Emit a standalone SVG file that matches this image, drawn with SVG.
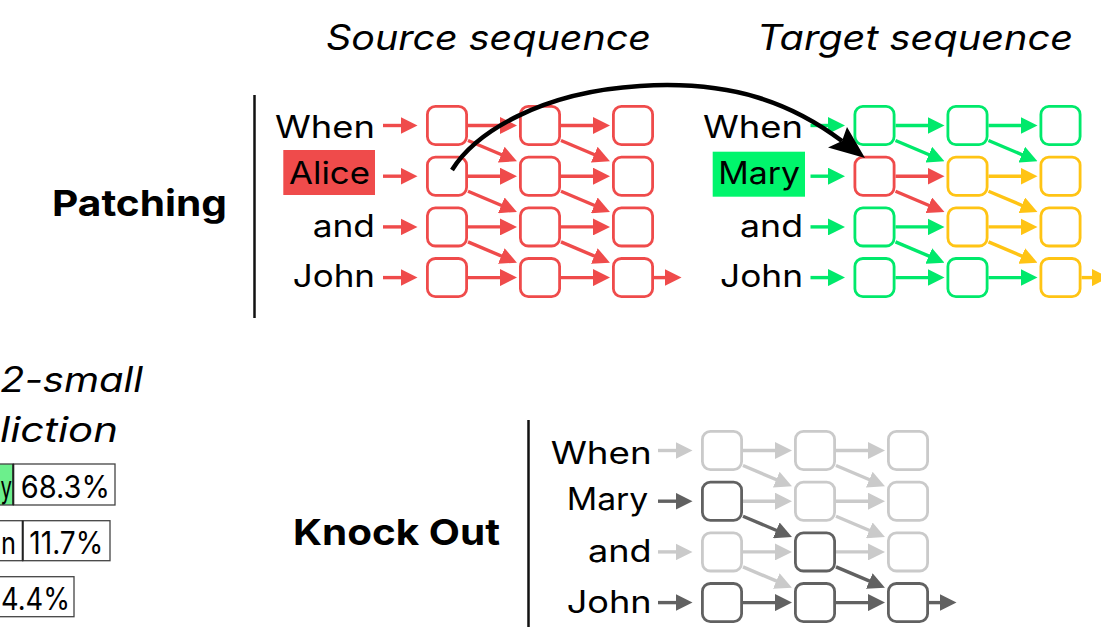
<svg xmlns="http://www.w3.org/2000/svg" width="1101" height="627" viewBox="0 0 1101 627">
  <defs>
    <style>
      text { font-family: Inter, "Noto Sans", "DejaVu Sans", sans-serif; fill: #000; }
      .lbl { font-size: 31px; }
      .head { font-size: 35px; font-style: italic; }
      .title { font-size: 36px; font-weight: 700; }
      .pct { font-size: 31px; font-weight: 400; }
      .box { fill: #fff; stroke-width: 2.8; }
      .b-red { stroke: #ef4b4b; }
      .b-green { stroke: #00e96b; }
      .b-yellow { stroke: #ffc414; }
      .b-light { stroke: #cacaca; }
      .b-dark { stroke: #616161; }
      .lk { fill: none; stroke-width: 3.4; }
      .l-red { stroke: #ef4b4b; marker-end: url(#ah-red); }
      .l-green { stroke: #00e96b; marker-end: url(#ah-green); }
      .l-yellow { stroke: #ffc414; marker-end: url(#ah-yellow); }
      .l-light { stroke: #cacaca; marker-end: url(#ah-light); }
      .l-dark { stroke: #616161; marker-end: url(#ah-dark); }
      .bar { stroke: #111; stroke-width: 2.5; }
      .cell { fill: #fff; stroke: #444; stroke-width: 1.3; }
    </style>
    <marker id="ah-red" markerUnits="userSpaceOnUse" markerWidth="17" markerHeight="17" viewBox="0 0 17 17" refX="10" refY="8.5" orient="auto"><path d="M0,0 L17,8.5 L0,17 z" fill="#ef4b4b"/></marker>
    <marker id="ah-green" markerUnits="userSpaceOnUse" markerWidth="17" markerHeight="17" viewBox="0 0 17 17" refX="10" refY="8.5" orient="auto"><path d="M0,0 L17,8.5 L0,17 z" fill="#00e96b"/></marker>
    <marker id="ah-yellow" markerUnits="userSpaceOnUse" markerWidth="17" markerHeight="17" viewBox="0 0 17 17" refX="10" refY="8.5" orient="auto"><path d="M0,0 L17,8.5 L0,17 z" fill="#ffc414"/></marker>
    <marker id="ah-light" markerUnits="userSpaceOnUse" markerWidth="17" markerHeight="17" viewBox="0 0 17 17" refX="10" refY="8.5" orient="auto"><path d="M0,0 L17,8.5 L0,17 z" fill="#cacaca"/></marker>
    <marker id="ah-dark" markerUnits="userSpaceOnUse" markerWidth="17" markerHeight="17" viewBox="0 0 17 17" refX="10" refY="8.5" orient="auto"><path d="M0,0 L17,8.5 L0,17 z" fill="#616161"/></marker>
  </defs>

  <rect width="1101" height="627" fill="#fff"/>

  <!-- column headings -->
  <text class="head" x="326" y="50" textLength="325" lengthAdjust="spacingAndGlyphs">Source sequence</text>
  <text class="head" x="757" y="50" textLength="316" lengthAdjust="spacingAndGlyphs">Target sequence</text>

  <!-- section titles and dividers -->
  <text class="title" x="52" y="215.7" textLength="175" lengthAdjust="spacingAndGlyphs">Patching</text>
  <text class="title" x="293" y="545" textLength="207" lengthAdjust="spacingAndGlyphs">Knock Out</text>
  <line class="bar" x1="254.5" y1="95" x2="254.5" y2="318"/>
  <line class="bar" x1="528.5" y1="420" x2="528.5" y2="627"/>

  <!-- prediction table (left edge) -->
  <g id="prediction">
    <text class="head" x="0" y="391.7" font-size="38" textLength="143" lengthAdjust="spacingAndGlyphs">2-small</text>
    <text class="head" x="0" y="441.7" font-size="38" textLength="118" lengthAdjust="spacingAndGlyphs">liction</text>
    <rect x="-2" y="464" width="15.3" height="41" fill="#6cef8c" stroke="#444" stroke-width="1.3"/>
    <text class="pct" x="0.5" y="498" textLength="11.5" lengthAdjust="spacingAndGlyphs">y</text>
    <rect class="cell" x="13.3" y="464" width="101.7" height="41"/>
    <line x1="13.3" y1="464" x2="13.3" y2="505" stroke="#222" stroke-width="2"/>
    <text class="pct" x="20.7" y="498.3" textLength="89.3" lengthAdjust="spacingAndGlyphs">68.3%</text>
    <rect class="cell" x="-2" y="520.7" width="24.7" height="40"/>
    <text class="pct" x="1" y="554" textLength="15" lengthAdjust="spacingAndGlyphs">n</text>
    <rect class="cell" x="22.7" y="520.7" width="87.3" height="40"/>
    <line x1="22.7" y1="520.7" x2="22.7" y2="560.7" stroke="#222" stroke-width="2"/>
    <text class="pct" x="29.3" y="554" textLength="74" lengthAdjust="spacingAndGlyphs">11.7%</text>
    <rect class="cell" x="-2" y="576.7" width="76" height="40"/>
    <text class="pct" x="1" y="610" textLength="69" lengthAdjust="spacingAndGlyphs">4.4%</text>
  </g>

  <!-- source sequence labels -->
  <rect x="283.3" y="150" width="91.7" height="45" fill="#ef4b4b"/>
  <text class="lbl" x="275" y="138" textLength="100" lengthAdjust="spacingAndGlyphs">When</text>
  <text class="lbl" x="289" y="184.3" textLength="81" lengthAdjust="spacingAndGlyphs">Alice</text>
  <text class="lbl" x="312.7" y="236.7" textLength="62.3" lengthAdjust="spacingAndGlyphs">and</text>
  <text class="lbl" x="292.7" y="287.3" textLength="82.3" lengthAdjust="spacingAndGlyphs">John</text>

  <!-- target sequence labels -->
  <rect x="712.7" y="151.7" width="92.3" height="45" fill="#00f56c"/>
  <text class="lbl" x="703" y="138" textLength="100" lengthAdjust="spacingAndGlyphs">When</text>
  <text class="lbl" x="718.3" y="184.3" textLength="81.7" lengthAdjust="spacingAndGlyphs">Mary</text>
  <text class="lbl" x="740" y="236.7" textLength="63" lengthAdjust="spacingAndGlyphs">and</text>
  <text class="lbl" x="720" y="287.3" textLength="83" lengthAdjust="spacingAndGlyphs">John</text>

  <!-- knock-out labels -->
  <text class="lbl" x="550.7" y="464" textLength="101" lengthAdjust="spacingAndGlyphs">When</text>
  <text class="lbl" x="566.7" y="510" textLength="81.6" lengthAdjust="spacingAndGlyphs">Mary</text>
  <text class="lbl" x="588" y="561.7" textLength="63.7" lengthAdjust="spacingAndGlyphs">and</text>
  <text class="lbl" x="566.7" y="612.7" textLength="85" lengthAdjust="spacingAndGlyphs">John</text>

  <!-- ===== source grid (all red) ===== -->
  <g id="source-grid">
    <g id="src-r1c1"><rect class="box b-red" x="427.4" y="106.4" width="39.2" height="38.2" rx="8"/></g>
    <g id="src-r1c2"><rect class="box b-red" x="520.4" y="106.4" width="39.2" height="38.2" rx="8"/></g>
    <g id="src-r1c3"><rect class="box b-red" x="613.4" y="106.4" width="39.2" height="38.2" rx="8"/></g>
    <g id="src-r2c1"><rect class="box b-red" x="427.4" y="157.1" width="39.2" height="38.2" rx="8"/></g>
    <g id="src-r2c2"><rect class="box b-red" x="520.4" y="157.1" width="39.2" height="38.2" rx="8"/></g>
    <g id="src-r2c3"><rect class="box b-red" x="613.4" y="157.1" width="39.2" height="38.2" rx="8"/></g>
    <g id="src-r3c1"><rect class="box b-red" x="427.4" y="207.8" width="39.2" height="38.2" rx="8"/></g>
    <g id="src-r3c2"><rect class="box b-red" x="520.4" y="207.8" width="39.2" height="38.2" rx="8"/></g>
    <g id="src-r3c3"><rect class="box b-red" x="613.4" y="207.8" width="39.2" height="38.2" rx="8"/></g>
    <g id="src-r4c1"><rect class="box b-red" x="427.4" y="258.5" width="39.2" height="38.2" rx="8"/></g>
    <g id="src-r4c2"><rect class="box b-red" x="520.4" y="258.5" width="39.2" height="38.2" rx="8"/></g>
    <g id="src-r4c3"><rect class="box b-red" x="613.4" y="258.5" width="39.2" height="38.2" rx="8"/></g>
    <g id="source-links">
      <path class="lk l-red" d="M383,125.5 H410.5"/>
      <path class="lk l-red" d="M383,176.2 H410.5"/>
      <path class="lk l-red" d="M383,226.9 H410.5"/>
      <path class="lk l-red" d="M383,277.6 H410.5"/>
      <path class="lk l-red" d="M468,125.5 H510"/>
      <path class="lk l-red" d="M561,125.5 H603"/>
      <path class="lk l-red" d="M468,176.2 H510"/>
      <path class="lk l-red" d="M561,176.2 H603"/>
      <path class="lk l-red" d="M468,226.9 H510"/>
      <path class="lk l-red" d="M561,226.9 H603"/>
      <path class="lk l-red" d="M468,277.6 H510"/>
      <path class="lk l-red" d="M561,277.6 H603"/>
      <path class="lk l-red" d="M654,277.6 H674.5"/>
      <path class="lk l-red" d="M468,140.5 L510.5,158.5"/>
      <path class="lk l-red" d="M561,140.5 L603.5,158.5"/>
      <path class="lk l-red" d="M468,191.2 L510.5,209.2"/>
      <path class="lk l-red" d="M561,191.2 L603.5,209.2"/>
      <path class="lk l-red" d="M468,241.9 L510.5,259.9"/>
      <path class="lk l-red" d="M561,241.9 L603.5,259.9"/>
    </g>
  </g>

  <!-- ===== target grid ===== -->
  <g id="target-grid" transform="translate(427.5,0)">
    <g id="tgt-r1c1"><rect class="box b-green" x="427.4" y="106.4" width="39.2" height="38.2" rx="8"/></g>
    <g id="tgt-r1c2"><rect class="box b-green" x="520.4" y="106.4" width="39.2" height="38.2" rx="8"/></g>
    <g id="tgt-r1c3"><rect class="box b-green" x="613.4" y="106.4" width="39.2" height="38.2" rx="8"/></g>
    <g id="tgt-r2c1"><rect class="box b-red" x="427.4" y="157.1" width="39.2" height="38.2" rx="8"/></g>
    <g id="tgt-r2c2"><rect class="box b-yellow" x="520.4" y="157.1" width="39.2" height="38.2" rx="8"/></g>
    <g id="tgt-r2c3"><rect class="box b-yellow" x="613.4" y="157.1" width="39.2" height="38.2" rx="8"/></g>
    <g id="tgt-r3c1"><rect class="box b-green" x="427.4" y="207.8" width="39.2" height="38.2" rx="8"/></g>
    <g id="tgt-r3c2"><rect class="box b-yellow" x="520.4" y="207.8" width="39.2" height="38.2" rx="8"/></g>
    <g id="tgt-r3c3"><rect class="box b-yellow" x="613.4" y="207.8" width="39.2" height="38.2" rx="8"/></g>
    <g id="tgt-r4c1"><rect class="box b-green" x="427.4" y="258.5" width="39.2" height="38.2" rx="8"/></g>
    <g id="tgt-r4c2"><rect class="box b-green" x="520.4" y="258.5" width="39.2" height="38.2" rx="8"/></g>
    <g id="tgt-r4c3"><rect class="box b-yellow" x="613.4" y="258.5" width="39.2" height="38.2" rx="8"/></g>
    <g id="target-links">
      <path class="lk l-green" d="M383,125.5 H410.5"/>
      <path class="lk l-green" d="M383,176.2 H410.5"/>
      <path class="lk l-green" d="M383,226.9 H410.5"/>
      <path class="lk l-green" d="M383,277.6 H410.5"/>
      <path class="lk l-green" d="M468,125.5 H510"/>
      <path class="lk l-green" d="M561,125.5 H603"/>
      <path class="lk l-green" d="M468,140.5 L510.5,158.5"/>
      <path class="lk l-green" d="M561,140.5 L603.5,158.5"/>
      <path class="lk l-red" d="M468,176.2 H510"/>
      <path class="lk l-red" d="M468,191.2 L510.5,209.2"/>
      <path class="lk l-yellow" d="M561,176.2 H603"/>
      <path class="lk l-yellow" d="M561,191.2 L603.5,209.2"/>
      <path class="lk l-green" d="M468,226.9 H510"/>
      <path class="lk l-green" d="M468,241.9 L510.5,259.9"/>
      <path class="lk l-yellow" d="M561,226.9 H603"/>
      <path class="lk l-yellow" d="M561,241.9 L603.5,259.9"/>
      <path class="lk l-green" d="M468,277.6 H510"/>
      <path class="lk l-green" d="M561,277.6 H603"/>
      <path class="lk l-yellow" d="M654,277.6 H674.5"/>
    </g>
  </g>

  <!-- ===== knock-out grid ===== -->
  <g id="knockout-grid" transform="translate(275,325)">
    <g id="ko-r1c1"><rect class="box b-light" x="427.4" y="106.4" width="39.2" height="38.2" rx="8"/></g>
    <g id="ko-r1c2"><rect class="box b-light" x="520.4" y="106.4" width="39.2" height="38.2" rx="8"/></g>
    <g id="ko-r1c3"><rect class="box b-light" x="613.4" y="106.4" width="39.2" height="38.2" rx="8"/></g>
    <g id="ko-r2c1"><rect class="box b-dark" x="427.4" y="157.1" width="39.2" height="38.2" rx="8"/></g>
    <g id="ko-r2c2"><rect class="box b-light" x="520.4" y="157.1" width="39.2" height="38.2" rx="8"/></g>
    <g id="ko-r2c3"><rect class="box b-light" x="613.4" y="157.1" width="39.2" height="38.2" rx="8"/></g>
    <g id="ko-r3c1"><rect class="box b-light" x="427.4" y="207.8" width="39.2" height="38.2" rx="8"/></g>
    <g id="ko-r3c2"><rect class="box b-dark" x="520.4" y="207.8" width="39.2" height="38.2" rx="8"/></g>
    <g id="ko-r3c3"><rect class="box b-light" x="613.4" y="207.8" width="39.2" height="38.2" rx="8"/></g>
    <g id="ko-r4c1"><rect class="box b-dark" x="427.4" y="258.5" width="39.2" height="38.2" rx="8"/></g>
    <g id="ko-r4c2"><rect class="box b-dark" x="520.4" y="258.5" width="39.2" height="38.2" rx="8"/></g>
    <g id="ko-r4c3"><rect class="box b-dark" x="613.4" y="258.5" width="39.2" height="38.2" rx="8"/></g>
    <g id="knockout-links">
      <!-- removed paths -->
      <path class="lk l-light" d="M383,125.5 H410.5"/>
      <path class="lk l-light" d="M383,226.9 H410.5"/>
      <path class="lk l-light" d="M468,125.5 H510"/>
      <path class="lk l-light" d="M561,125.5 H603"/>
      <path class="lk l-light" d="M468,140.5 L510.5,158.5"/>
      <path class="lk l-light" d="M561,140.5 L603.5,158.5"/>
      <path class="lk l-light" d="M468,176.2 H510"/>
      <path class="lk l-light" d="M561,176.2 H603"/>
      <path class="lk l-light" d="M561,191.2 L603.5,209.2"/>
      <path class="lk l-light" d="M468,226.9 H510"/>
      <path class="lk l-light" d="M561,226.9 H603"/>
      <path class="lk l-light" d="M468,241.9 L510.5,259.9"/>
      <!-- kept paths -->
      <path class="lk l-dark" d="M383,176.2 H410.5"/>
      <path class="lk l-dark" d="M383,277.6 H410.5"/>
      <path class="lk l-dark" d="M468,191.2 L510.5,209.2"/>
      <path class="lk l-dark" d="M561,241.9 L603.5,259.9"/>
      <path class="lk l-dark" d="M468,277.6 H510"/>
      <path class="lk l-dark" d="M561,277.6 H603"/>
      <path class="lk l-dark" d="M654,277.6 H674.5"/>
    </g>
  </g>

  <!-- patch transfer: source Alice state into target Mary slot -->
  <g id="patch-arrow">
    <path d="M452,170 C475,133 540,92 640,86 C735,80 794,105 842,141" fill="none" stroke="#000" stroke-width="4.5"/>
    <polygon points="865,158 847,127 842,141 828,147.5" fill="#000"/>
  </g>
</svg>
